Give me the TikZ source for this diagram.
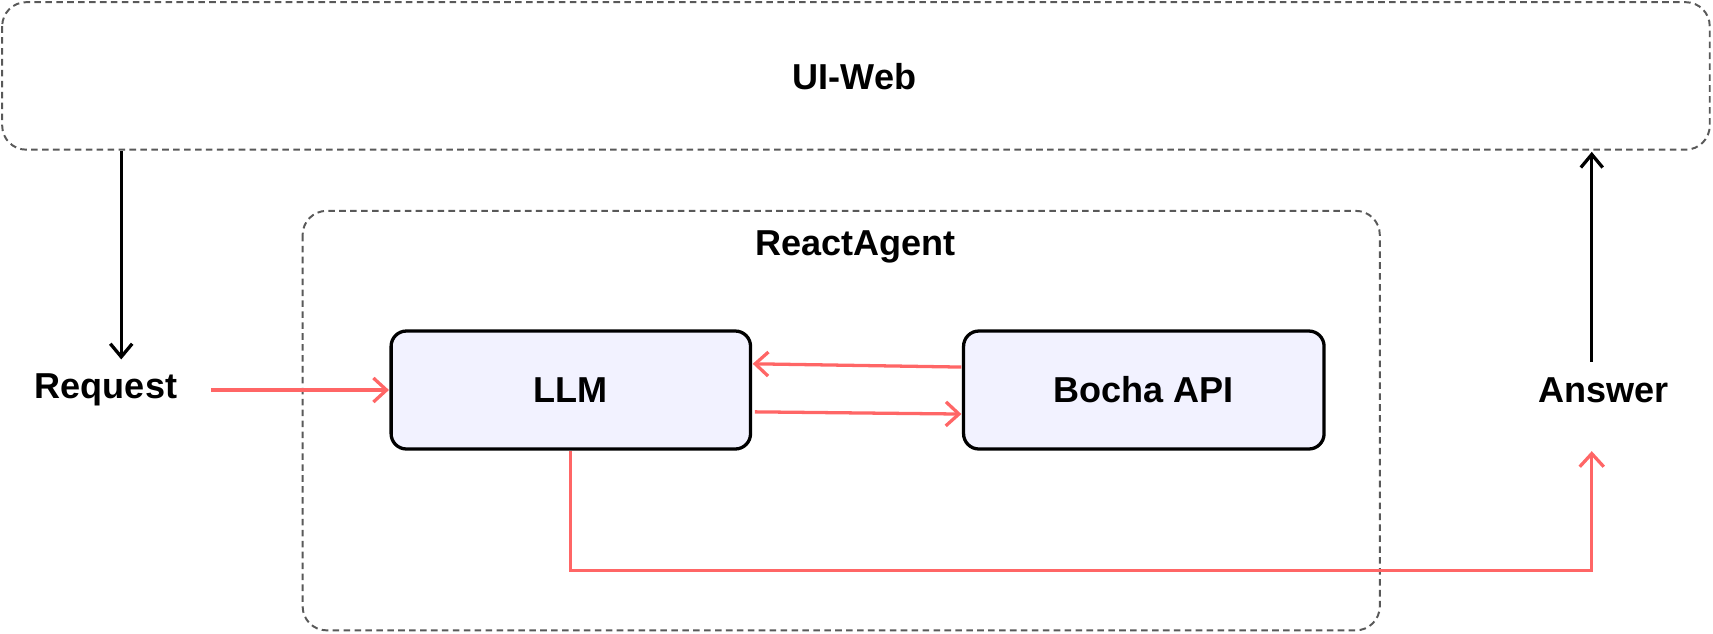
\documentclass[tikz,border=0pt]{standalone}
\usepackage{fontspec}
\setmainfont{Liberation Sans}
\usetikzlibrary{arrows.meta}
\begin{document}
\begin{tikzpicture}[x=1pt,y=-1pt,
  grp/.style={draw=black!65,dash pattern=on 6pt off 4pt,line width=1.8pt,rounded corners=22pt},
  box/.style={draw=black,line width=3pt,fill=blue!5!white,rounded corners=14pt},
  lbl/.style={font=\fontsize{33}{40}\selectfont\bfseries},
  red/.style={draw={rgb,255:red,255;green,102;blue,102},line width=3pt,-{Straight Barb[length=12pt,width=22pt,line width=3pt]}},
  blk/.style={draw=black,line width=3pt,-{Straight Barb[length=12pt,width=20pt,line width=3pt]}}]
\useasboundingbox (0,0) rectangle (1568,580);
\draw[grp] (2,2) rectangle (1565,137);
\node[lbl] (ui) at (782,70) {UI-Web};
\draw[grp] (277,193) rectangle (1263,577);
\node[lbl] (ra) at (783,226) {ReactAgent};
\draw[box] (358,303) rectangle (687,411);
\node[lbl] (llm) at (522,357) {LLM};
\draw[box] (882,303) rectangle (1212,411);
\node[lbl] (bocha) at (1047,357) {Bocha API};
\node[lbl] (req) at (97,357) {Request};
\node[lbl] (ans) at (1468,357) {Answer};
\coordinate (uiA) at (111,138);
\coordinate (reqT) at (111,329);
\coordinate (ansT) at (1457,331);
\coordinate (uiB) at (1457,139);
\draw[blk] (uiA) -- (reqT);
\draw[blk] (ansT) -- (uiB);
\coordinate (rq) at (193,357); \coordinate (llmL) at (356,357);
\draw[red] (rq) -- (llmL);
\coordinate (b1) at (880,336); \coordinate (l1) at (689,333);
\draw[red] (b1) -- (l1);
\coordinate (l2) at (691,377); \coordinate (b2) at (880,379);
\draw[red] (l2) -- (b2);
\coordinate (lb) at (522,413); \coordinate (ab) at (1457,413);
\draw[red] (lb) -- (522,522) -- (1457,522) -- (ab);
\end{tikzpicture}
\end{document}
